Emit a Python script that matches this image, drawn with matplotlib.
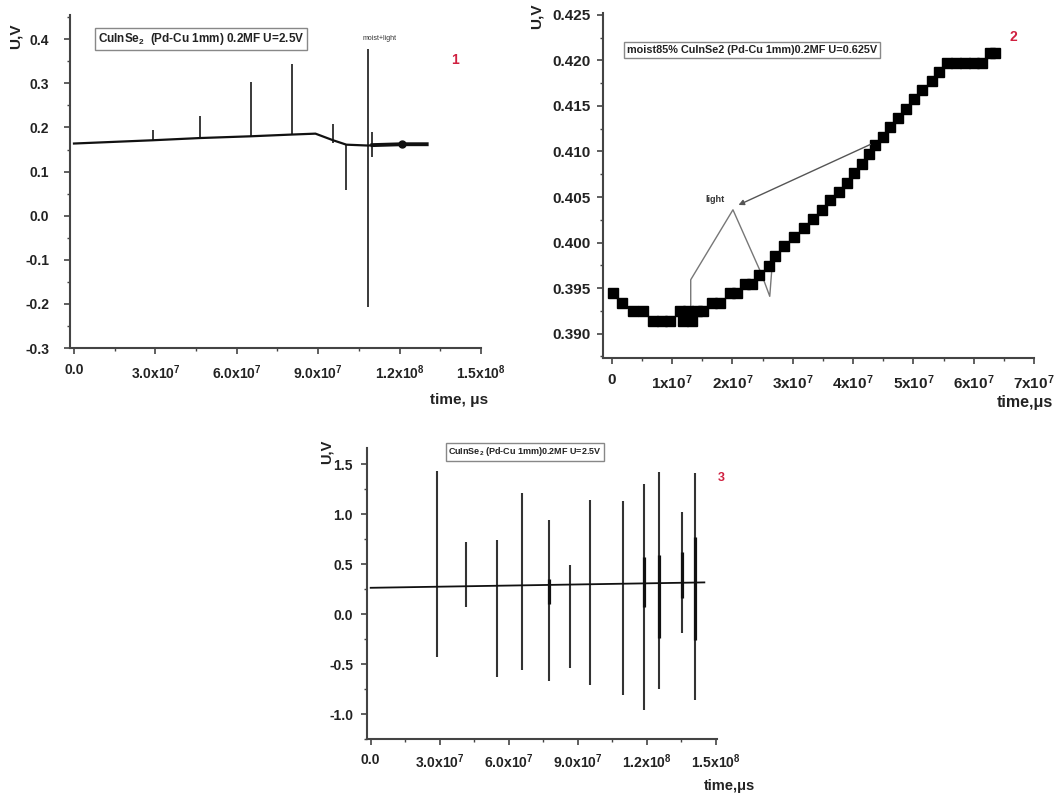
import matplotlib
matplotlib.use("Agg")
import matplotlib.pyplot as plt
from matplotlib.ticker import MultipleLocator, FixedLocator, FixedFormatter, FormatStrFormatter

plt.rcParams['font.family'] = ['Liberation Sans', 'DejaVu Sans']
plt.rcParams['mathtext.fontset'] = 'custom'
plt.rcParams['mathtext.rm'] = 'Liberation Sans:bold'
plt.rcParams['mathtext.bf'] = 'Liberation Sans:bold'
plt.rcParams['mathtext.it'] = 'Liberation Sans:bold:italic'
plt.rcParams['mathtext.default'] = 'rm'

# ---------------- data (time in units of 1e7 us) ----------------
# Panel 1
p1_t = [0.0, 2.9, 4.63, 6.51, 8.05, 8.9, 9.55, 10.04, 10.85, 11.0, 12.1, 13.0]
p1_v = [0.1636, 0.171, 0.176, 0.180, 0.184, 0.186, 0.171, 0.161, 0.159, 0.160, 0.162, 0.162]
p1_spike_t = [2.9, 4.63, 6.51, 8.05, 9.55, 10.04, 10.85, 11.0]
p1_spike_lo = [0.171, 0.176, 0.180, 0.184, 0.165, 0.059, -0.208, 0.133]
p1_spike_hi = [0.194, 0.226, 0.304, 0.345, 0.209, 0.161, 0.377, 0.190]
p1_thick_t = [11.0, 12.1, 13.0]
p1_thick_v = [0.160, 0.162, 0.162]
p1_dot_t = [12.1]
p1_dot_v = [0.162]
p1_xticks = [0, 3, 6, 9, 12, 15]
p1_xlabels = ["0.0", "3.0x10$^7$", "6.0x10$^7$", "9.0x10$^7$", "1.2x10$^8$", "1.5x10$^8$"]

# Panel 2
p2_t = [0.03, 0.17, 0.36, 0.52, 0.69, 0.83, 0.97, 1.13, 1.19, 1.27, 1.33, 1.41, 1.52,
        1.66, 1.80, 1.96, 2.07, 2.21, 2.32, 2.45, 2.60, 2.71, 2.86, 3.02, 3.18, 3.33,
        3.48, 3.62, 3.76, 3.90, 4.02, 4.15, 4.27, 4.36, 4.49, 4.62, 4.75, 4.88, 5.01,
        5.15, 5.31, 5.43, 5.56, 5.70, 5.85, 6.00, 6.14, 6.27, 6.36]
p2_v = [0.39446, 0.39337, 0.39245, 0.39245, 0.39135, 0.39135, 0.39135, 0.39245, 0.39135,
        0.39245, 0.39135, 0.39245, 0.39245, 0.39337, 0.39337, 0.39446, 0.39446, 0.39548,
        0.39548, 0.39647, 0.39746, 0.39848, 0.39957, 0.40056, 0.40159, 0.40258, 0.40360,
        0.40469, 0.40560, 0.40652, 0.40762, 0.40864, 0.40974, 0.41072, 0.41163, 0.41266,
        0.41365, 0.41467, 0.41573, 0.41675, 0.41778, 0.41876, 0.41968, 0.41968, 0.41968,
        0.41968, 0.41968, 0.42078, 0.42078]
p2_light_t = [1.31, 1.31, 2.01, 2.48, 2.62, 2.65]
p2_light_v = [0.39132, 0.39592, 0.4036, 0.3966, 0.3941, 0.3967]
p2_arrow_from = (4.33, 0.4109)
p2_arrow_to = (2.06, 0.4040)
p2_xticks = [0, 1, 2, 3, 4, 5, 6, 7]
p2_xlabels = ["0", "1x10$^7$", "2x10$^7$", "3x10$^7$", "4x10$^7$", "5x10$^7$", "6x10$^7$", "7x10$^7$"]

# Panel 3
p3_base_t = [0.0, 14.5]
p3_base_v = [0.262, 0.316]
p3_spike_t = [2.87, 4.13, 5.48, 6.57, 7.75, 8.66, 9.53, 10.96, 11.88, 12.55, 13.55, 14.10]
p3_spike_hi = [1.434, 0.720, 0.737, 1.212, 0.936, 0.495, 1.142, 1.135, 1.302, 1.418, 1.019, 1.408]
p3_spike_lo = [-0.431, 0.07, -0.631, -0.558, -0.674, -0.541, -0.707, -0.807, -0.956, -0.750, -0.192, -0.863]
p3_thick_t = [7.75, 11.88, 12.55, 13.55, 14.10]
p3_thick_lo = [0.10, 0.07, -0.24, 0.16, -0.26]
p3_thick_hi = [0.35, 0.57, 0.59, 0.62, 0.77]
p3_xticks = [0, 3, 6, 9, 12, 15]
p3_xlabels = ["0.0", "3.0x10$^7$", "6.0x10$^7$", "9.0x10$^7$", "1.2x10$^8$", "1.5x10$^8$"]

SCALE = 1e7
W, H = 1064, 795

def px_axes(fig, left, top, right, bottom):
    return fig.add_axes([left / W, 1 - bottom / H, (right - left) / W, (bottom - top) / H])

def fxy(x, y):
    return x / W, 1 - y / H

def style(ax, fs, ypad, xpad):
    for s in ('top', 'right'):
        ax.spines[s].set_visible(False)
    for s in ('left', 'bottom'):
        ax.spines[s].set_linewidth(1.5)
        ax.spines[s].set_color('#444444')
    ax.tick_params(which='major', direction='out', length=4, width=1.2, color='#444444',
                   labelsize=fs, labelcolor='#222222')
    ax.tick_params(which='minor', direction='out', length=2.5, width=1, color='#444444')
    ax.tick_params(axis='y', which='major', pad=ypad)
    ax.tick_params(axis='x', which='major', pad=xpad)
    for lab in ax.get_xticklabels() + ax.get_yticklabels():
        lab.set_fontweight('bold')

fig = plt.figure(figsize=(W / 100, H / 100), dpi=100)
fig.patch.set_facecolor('white')

# ---------------- Panel 1 ----------------
ax1 = px_axes(fig, 70, 15, 481, 348)
ax1.plot([t * SCALE for t in p1_t], p1_v, color='#111111', lw=1.6, zorder=3)
ax1.plot([t * SCALE for t in p1_thick_t], p1_thick_v, color='#111111', lw=2.8, zorder=3)
ax1.plot([t * SCALE for t in p1_dot_t], p1_dot_v, 'o', color='#111111', ms=5, zorder=4)
ax1.vlines([t * SCALE for t in p1_spike_t], p1_spike_lo, p1_spike_hi, colors='#3a3a3a', lw=1.4, zorder=2)
ax1.set_xlim(-0.147 * SCALE, 15.002 * SCALE)
ax1.set_ylim(-0.30, 0.455)
ax1.xaxis.set_major_locator(FixedLocator([t * SCALE for t in p1_xticks]))
ax1.xaxis.set_major_formatter(FixedFormatter(p1_xlabels))
ax1.xaxis.set_minor_locator(MultipleLocator(1.5 * SCALE))
ax1.yaxis.set_major_locator(MultipleLocator(0.1))
ax1.yaxis.set_minor_locator(MultipleLocator(0.05))
ax1.yaxis.set_major_formatter(FormatStrFormatter('%.1f'))
style(ax1, 10, 11, 7)
fig.text(*fxy(201, 39), "CuInSe$_2$  (Pd-Cu 1mm) 0.2MF U=2.5V", ha='center', va='center',
         fontsize=8.5, fontweight='bold', color='#222222',
         bbox=dict(boxstyle='square,pad=0.25', fc='white', ec='#888888', lw=1))
fig.text(*fxy(380, 38), "moist+light", ha='center', va='center', fontsize=5, color='#333333')
fig.text(*fxy(455, 60), "1", ha='center', va='center', fontsize=10, fontweight='bold', color='#d02040')
fig.text(*fxy(488, 400), "time, μs", ha='right', va='center', fontsize=11, fontweight='bold', color='#222222')
fig.text(*fxy(16, 36), "U,V", ha='center', va='center', rotation=90, fontsize=11, fontweight='bold', color='#222222')

# ---------------- Panel 2 ----------------
ax2 = px_axes(fig, 603, 13, 1034, 358)
ax2.plot([t * SCALE for t in p2_t], p2_v, 's', color='black', ms=7.3, mec='black', zorder=3)
ax2.plot([t * SCALE for t in p2_light_t], p2_light_v, color='#777777', lw=1.0, zorder=2)
ax2.annotate("", xy=(p2_arrow_to[0] * SCALE, p2_arrow_to[1]),
             xytext=(p2_arrow_from[0] * SCALE, p2_arrow_from[1]),
             arrowprops=dict(arrowstyle='-|>', color='#555555', lw=1.0, mutation_scale=8))
ax2.text(1.71 * SCALE, 0.4047, "light", ha='center', va='center', fontsize=6.5,
         fontweight='bold', color='#333333')
ax2.set_xlim(-0.144 * SCALE, 7.0 * SCALE)
ax2.set_ylim(0.38733, 0.4252)
ax2.xaxis.set_major_locator(FixedLocator([t * SCALE for t in p2_xticks]))
ax2.xaxis.set_major_formatter(FixedFormatter(p2_xlabels))
ax2.xaxis.set_minor_locator(MultipleLocator(0.5 * SCALE))
ax2.yaxis.set_major_locator(MultipleLocator(0.005))
ax2.yaxis.set_minor_locator(MultipleLocator(0.0025))
ax2.yaxis.set_major_formatter(FormatStrFormatter('%.3f'))
style(ax2, 11, 5, 7)
fig.text(*fxy(752, 50), "moist85% CuInSe2 (Pd-Cu 1mm)0.2MF U=0.625V", ha='center', va='center',
         fontsize=7.8, fontweight='bold', color='#222222',
         bbox=dict(boxstyle='square,pad=0.25', fc='white', ec='#888888', lw=1))
fig.text(*fxy(1013, 37), "2", ha='center', va='center', fontsize=10, fontweight='bold', color='#d02040')
fig.text(*fxy(1053, 403), "time,μs", ha='right', va='center', fontsize=11.5, fontweight='bold', color='#222222')
fig.text(*fxy(537, 16), "U,V", ha='center', va='center', rotation=90, fontsize=11, fontweight='bold', color='#222222')

# ---------------- Panel 3 ----------------
ax3 = px_axes(fig, 367, 448, 717, 739)
ax3.plot([t * SCALE for t in p3_base_t], p3_base_v, color='#111111', lw=1.3, zorder=3)
ax3.vlines([t * SCALE for t in p3_spike_t], p3_spike_lo, p3_spike_hi, colors='#333333', lw=1.5, zorder=2)
ax3.vlines([t * SCALE for t in p3_thick_t], p3_thick_lo, p3_thick_hi, colors='#111111', lw=2.3, zorder=2)
ax3.set_xlim(-0.16 * SCALE, 15.05 * SCALE)
ax3.set_ylim(-1.25, 1.66)
ax3.xaxis.set_major_locator(FixedLocator([t * SCALE for t in p3_xticks]))
ax3.xaxis.set_major_formatter(FixedFormatter(p3_xlabels))
ax3.xaxis.set_minor_locator(MultipleLocator(1.5 * SCALE))
ax3.yaxis.set_major_locator(MultipleLocator(0.5))
ax3.yaxis.set_minor_locator(MultipleLocator(0.25))
ax3.yaxis.set_major_formatter(FormatStrFormatter('%.1f'))
style(ax3, 10, 6, 6)
fig.text(*fxy(525, 452), "CuInSe$_2$ (Pd-Cu 1mm)0.2MF U=2.5V", ha='center', va='center',
         fontsize=6.5, fontweight='bold', color='#222222',
         bbox=dict(boxstyle='square,pad=0.25', fc='white', ec='#888888', lw=1))
fig.text(*fxy(721, 478), "3", ha='center', va='center', fontsize=9, fontweight='bold', color='#d02040')
fig.text(*fxy(755, 786), "time,μs", ha='right', va='center', fontsize=10.5, fontweight='bold', color='#222222')
fig.text(*fxy(327, 452), "U,V", ha='center', va='center', rotation=90, fontsize=10.5, fontweight='bold', color='#222222')

fig.savefig("out.png", dpi=100, facecolor='white')
